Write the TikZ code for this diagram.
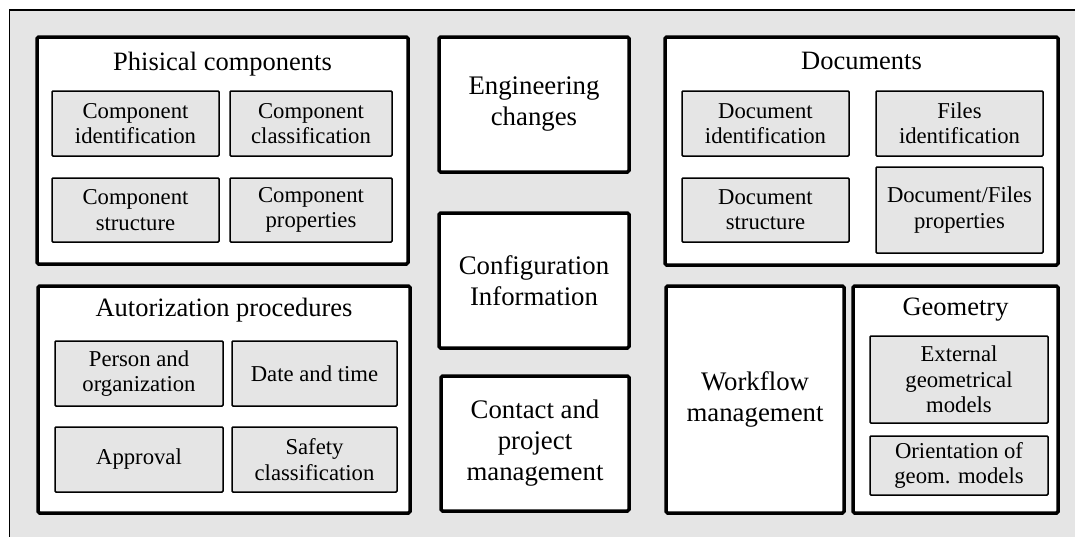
\documentclass[tikz,border=0pt]{standalone}
\usepackage{fontspec}
\setmainfont{Liberation Serif}
\definecolor{bggray}{gray}{0.9}
\begin{document}
\begin{tikzpicture}[x=1pt,y=-1pt]
        \tikzstyle{bigbox}=[draw=black,line width=3.5pt,fill=white,rounded corners=1.5pt,align=center,inner sep=0pt,font=\fontsize{26.8}{31}\selectfont]
        \tikzstyle{subbox}=[draw=black,line width=1.5pt,fill=bggray,rounded corners=1pt,align=center,inner sep=0pt,font=\fontsize{22.7}{25.3}\selectfont]
        \tikzstyle{title}=[anchor=base,inner sep=0pt,font=\fontsize{26.5}{31}\selectfont]
        \useasboundingbox (0,0) rectangle (1075,536);
        % outer frame, cut off at right and bottom
        \draw[line width=1.5pt,fill=bggray] (9.5,10) rectangle (1090,550);
       \begin{scope}
         % physical components
         \node [bigbox,minimum width=371pt,minimum height=227pt] (pc) at (222.5,150.5) {};
         \node [title] (pct) at (222.5,70) {Phisical components};
         \node [subbox,minimum width=167pt,minimum height=65pt] (ci) at (135.5,123.5) {Component\\identification};
         \node [subbox,minimum width=162pt,minimum height=65pt] (cc) at (311,123.5) {Component\\classification};
         \node [subbox,minimum width=167pt,minimum height=64pt] (cs) at (135.5,210) {Component\\structure};
         \node [subbox,minimum width=162pt,minimum height=64pt] (cp) at (311,210) {Component\\properties};
         % autorization procedures
         \node [bigbox,minimum width=372pt,minimum height=227pt] (ap) at (224,399.5) {};
         \node [title] (apt) at (224,316) {Autorization procedures};
         \node [subbox,minimum width=168pt,minimum height=65pt] (po) at (139,373.5) {Person and\\organization};
         \node [subbox,minimum width=165pt,minimum height=65pt] (dt) at (314.5,373.5) {Date and time};
         \node [subbox,minimum width=168pt,minimum height=65pt] (apv) at (139,459.5) {Approval};
         \node [subbox,minimum width=165pt,minimum height=65pt] (sc) at (314.5,459.5) {Safety\\classification};
        \end{scope}
       \begin{scope}
         % middle column
         \node [bigbox,minimum width=190pt,minimum height=135pt] (eng) at (534,104.5) {Engineering\\changes};
         \node [bigbox,minimum width=190pt,minimum height=135pt] (cfg) at (534,280.5) {Configuration\\Information};
         \node [bigbox,minimum width=188pt,minimum height=135pt] (cpm) at (535,443.5) {Contact and\\project\\management};
        \end{scope}
       \begin{scope}
         % documents
         \node [bigbox,minimum width=393pt,minimum height=228pt] (doc) at (861.5,151) {};
         \node [title] (doct) at (861.5,69) {Documents};
         \node [subbox,minimum width=167pt,minimum height=65pt] (di) at (765.5,123.5) {Document\\identification};
         \node [subbox,minimum width=167pt,minimum height=65pt] (fi) at (959.5,123.5) {Files\\identification};
         \node [subbox,minimum width=167pt,minimum height=64pt] (ds) at (765.5,210) {Document\\structure};
         \node [subbox,minimum width=167pt,minimum height=86pt] (dfp) at (959.5,210) {Document/Files\\properties};
         % workflow and geometry
         \node [bigbox,minimum width=178pt,minimum height=227pt] (wf) at (755,399.5) {Workflow\\management};
         \node [bigbox,minimum width=205pt,minimum height=227pt] (geo) at (955.5,399.5) {};
         \node [title] (geot) at (955.5,315) {Geometry};
         \node [subbox,minimum width=178pt,minimum height=87pt] (egm) at (959,379.5) {External\\geometrical\\models};
         \node [subbox,minimum width=178pt,minimum height=59pt] (ogm) at (959,465.5) {Orientation of\\geom. models};
        \end{scope}
      \end{tikzpicture}
\end{document}
